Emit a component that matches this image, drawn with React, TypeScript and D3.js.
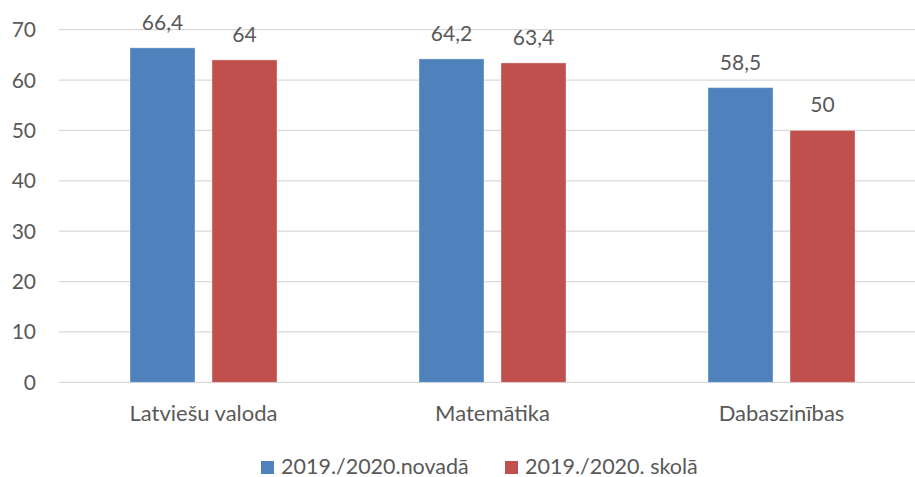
import React from "react";
import * as d3 from "d3";

const categories = ["Latviešu valoda", "Matemātika", "Dabaszinības"];
const seriesNames = ["2019./2020.novadā", "2019./2020. skolā"];
const novada = [66.4, 64.2, 58.5];
const skola = [64, 63.4, 50];
const valueLabels = [["66,4", "64,2", "58,5"], ["64", "63,4", "50"]];
const yTicks = [0, 10, 20, 30, 40, 50, 60, 70];
const colors = ["#4F81BD", "#C0504D"];

const W = 915;
const H = 477;
const FONT = "Lato, 'Noto Sans', sans-serif";
const TEXT = "#595959";

export default function App() {
  const series = [novada, skola];
  const x0 = d3.scaleBand<string>().domain(categories).range([59, 926]).padding(0);
  const bw = x0.bandwidth();
  const x1 = d3
    .scaleBand<number>()
    .domain([0, 1])
    .range([bw * 0.2457, bw * 0.7543])
    .paddingInner(17 / 82)
    .paddingOuter(0);
  const y = d3.scaleLinear().domain([0, 70]).range([382.3, 29.7]);

  return (
    <svg
      width={W}
      height={H}
      style={{ position: "absolute", left: 0, top: 0, background: "#fff" }}
      fontFamily={FONT}
    >
      <rect x={0} y={0} width={W} height={H} fill="#fff" />
      {yTicks.map((t) => (
        <g key={t}>
          <line x1={59} x2={926} y1={y(t)} y2={y(t)} stroke="#D9D9D9" strokeWidth={1.3} />
          <text x={36} y={y(t)} dy="0.36em" textAnchor="end" fontSize={21} fill={TEXT}>
            {t}
          </text>
        </g>
      ))}
      {categories.map((c, ci) => (
        <g key={c} transform={`translate(${x0(c)},0)`}>
          {series.map((s, si) => (
            <g key={si}>
              <rect
                x={x1(si)}
                y={y(s[ci])}
                width={x1.bandwidth()}
                height={y(0) - y(s[ci])}
                fill={colors[si]}
                stroke="#fff"
                strokeOpacity={0.35}
                strokeWidth={1}
              />
              <text
                x={(x1(si) as number) + x1.bandwidth() / 2}
                y={y(s[ci]) - 18}
                textAnchor="middle"
                fontSize={21}
                fill={TEXT}
              >
                {valueLabels[si][ci]}
              </text>
            </g>
          ))}
          <text x={bw / 2} y={421} textAnchor="middle" fontSize={22} fill={TEXT}>
            {c}
          </text>
        </g>
      ))}
      {seriesNames.map((n, i) => {
        const lx = [261, 505][i];
        return (
          <g key={n}>
            <rect x={lx} y={461} width={13} height={13} fill={colors[i]} />
            <text x={lx + 20} y={473.5} fontSize={21.5} fill={TEXT}>
              {n}
            </text>
          </g>
        );
      })}
    </svg>
  );
}
